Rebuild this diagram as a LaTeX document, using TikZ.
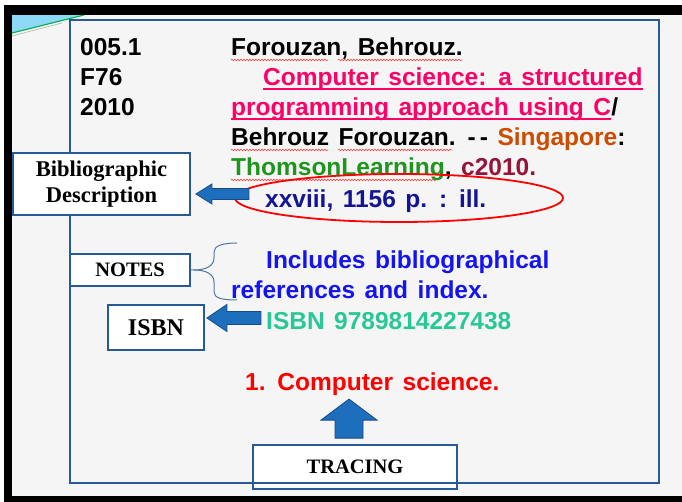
\documentclass[tikz,border=0pt]{standalone}
\usepackage{fontspec}
\setmainfont{Liberation Sans}
\newfontfamily\cardfont{Liberation Sans}[WordSpace=1.4]
\newfontfamily\tagfont{Liberation Serif}
\usetikzlibrary{positioning,shapes.geometric,calc}
\usetikzlibrary{decorations.pathmorphing}
\definecolor{frameblue}{RGB}{40,90,150}
\definecolor{arrowblue}{RGB}{30,110,190}
\definecolor{arrowedge}{RGB}{25,75,135}
\definecolor{braceblue}{RGB}{80,120,165}
\definecolor{titlepink}{RGB}{255,0,102}
\definecolor{placebrown}{RGB}{204,76,0}
\definecolor{pubgreen}{RGB}{30,150,30}
\definecolor{datemaroon}{RGB}{150,20,60}
\definecolor{extentblue}{RGB}{20,20,150}
\definecolor{noteblue}{RGB}{20,20,240}
\definecolor{isbngreen}{RGB}{40,200,150}
\definecolor{pagegray}{RGB}{245,245,245}
\tikzset{
  cardline/.style={anchor=base west, inner sep=0pt,
    font=\cardfont\bfseries\fontsize{24.5}{30}\selectfont},
  tagbox/.style={draw=frameblue, line width=1.8pt, fill=white, inner sep=0pt, align=center},
  tagfont/.style={font=\tagfont\bfseries\fontsize{#1}{#1}\selectfont},
  blockarrow/.style={draw=arrowedge, line width=0.8pt, fill=arrowblue, line join=miter},
  underl/.style={titlepink, line width=1.8pt},
  spell/.style={red!75, line width=0.6pt, decorate,
    decoration={snake, segment length=3pt, amplitude=0.8pt}}
}

\begin{document}
\begin{tikzpicture}[x=1pt, y=-1pt]
    \useasboundingbox (0,0) rectangle (682,502);
    \fill[white] (0,0) rectangle (682,502);
    \fill[pagegray] (12,15) rectangle (682,496);

    % slide corner and frame
    \fill[cyan!45] (12,15) -- (84,15) -- (12,33) -- cycle;
    \draw[teal!60!green, line width=1.2pt] (12,33) -- (84,15);
    \draw[gray!60, line width=0.6pt] (12,36) -- (62,23);
    \fill[black] (4,5) rectangle (682,15);
    \fill[black] (4,5) rectangle (12,502);
    \fill[black] (4,496) rectangle (682,502);

    \draw[frameblue, line width=1.8pt] (70,20) rectangle (659,483);

    % call number
    \node[cardline] (call1) at (80,56) {005.1};
    \node[cardline] (call2) at (80,86) {F76};
    \node[cardline] (call3) at (80,116) {2010};

    % description
    \node[cardline] (author) at (231,56) {Forouzan, Behrouz.};
    \node[cardline, titlepink] (title1) at (263,86) {Computer science: a structured};
    \node[cardline, titlepink] (title2) at (231,116) {programming approach using C};
    \node[cardline] (slash) at (title2.base east) {/};
    \node[cardline] (resp) at (231,146) {Behrouz Forouzan. -\,- \textcolor{placebrown}{Singapore}:};
    \node[cardline] (pub) at (231,176) {\textcolor{pubgreen}{ThomsonLearning}, \textcolor{datemaroon}{c2010.}};
    \node[cardline, extentblue] (extent) at (265,208) {xxviii, 1156 p. : ill.};
    \node[cardline, noteblue] (note1) at (266,269) {Includes bibliographical};
    \node[cardline, noteblue] (note2) at (231,299) {references and index.};
    \node[cardline, isbngreen] (isbn) at (266,329) {ISBN 9789814227438};
    \node[cardline, red] (trace) at (245,390) {1. Computer science.};

    \draw[underl] ([yshift=-3pt]title1.base west) -- ([yshift=-3pt]title1.base east);
    \draw[underl] ([yshift=-3pt]title2.base west) -- ([yshift=-3pt]title2.base east);

    \draw[spell] (231,60) -- (328,60);
    \draw[spell] (338,60) -- (462,60);
    \draw[spell] (231,150) -- (328,150);
    \draw[spell] (338,150) -- (452,150);
    \draw[spell] (231,180) -- (436,180);

    \node[draw=red, line width=1.8pt, ellipse, minimum width=328pt, minimum height=48pt] (ring) at (399,198) {};

    % tags
    \node[tagbox, tagfont=22.5, minimum width=177pt, minimum height=62pt] (bibdesc) at (101.5,184) {Bibliographic\\[3pt]Description};
    \node[tagbox, tagfont=20.5, minimum width=120pt, minimum height=32pt] (notes) at (130,270) {NOTES};
    \node[tagbox, tagfont=24, minimum width=96pt, minimum height=45pt] (isbntag) at (156,327.5) {ISBN};
    \node[tagbox, tagfont=20.5, minimum width=204pt, minimum height=44pt] (tracing) at (355,467) {TRACING};
    \draw[frameblue, line width=1.8pt] (tracing.west |- 0,483) -- (tracing.east |- 0,483);

    \coordinate (bdtip) at ([xshift=5pt, yshift=-10pt]bibdesc.east);
    \coordinate (isbntip) at ([xshift=2pt, yshift=9.5pt]isbntag.east);
    \coordinate (trtail) at ([xshift=-6pt, yshift=6pt]tracing.north);

    \draw[blockarrow] (bdtip) -- ++(16,-10) -- ++(0,4.5) -- ++(37,0) -- ++(0,11) -- ++(-37,0) -- ++(0,4.5) -- cycle;
    \draw[blockarrow] (isbntip) -- ++(20,-13.5) -- ++(0,7) -- ++(34,0) -- ++(0,13) -- ++(-34,0) -- ++(0,7) -- cycle;
    \draw[blockarrow] ([xshift=-14pt]trtail) -- ++(0,-18) -- ++(-14,0) -- ++(28,-21) -- ++(28,21) -- ++(-14,0) -- ++(0,18) -- cycle;

    \draw[braceblue, line width=1pt] (notes.east) -- ++(3,0)
      .. controls ++(12,0) and (214,266) .. (214,258) -- (214,252)
      .. controls (214,246) and (222,243) .. (237,243);
    \draw[braceblue, line width=1pt] ([xshift=3pt]notes.east)
      .. controls ++(12,0) and (214,274) .. (214,282) -- (214,292)
      .. controls (214,298) and (222,300) .. (237,300);

\end{tikzpicture}
\end{document}
